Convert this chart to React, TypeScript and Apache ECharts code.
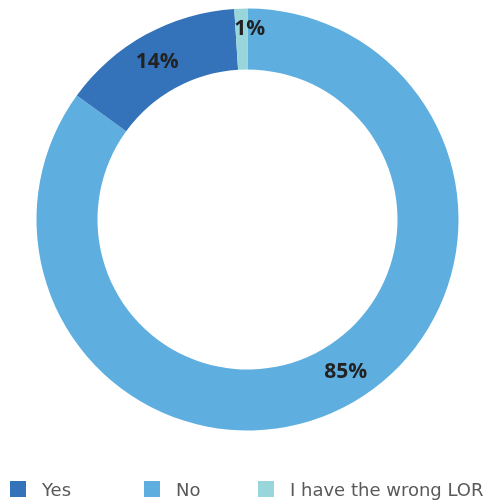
import React, { useEffect, useRef } from "react";
import * as echarts from "echarts";

const categories = ["Yes", "No", "I have the wrong LOR"];
const values = [14, 85, 1];
const colors = ["#3472B9", "#5EAFE0", "#98D6DC"];
const legendLefts = [10, 144, 258];
const labelOffsets: Record<string, number[]> = {
  "I have the wrong LOR": [8, -9],
  No: [15, -13],
  Yes: [-2, 1],
};

export default function App() {
  const ref = useRef<HTMLDivElement>(null);
  useEffect(() => {
    if (!ref.current) return;
    const chart = echarts.init(ref.current, null, { renderer: "svg" });
    const order = [1, 0, 2]; // clockwise from 12 o'clock: No, Yes, LOR
    const data = order.map((i) => ({
      name: categories[i],
      value: values[i],
      itemStyle: { color: colors[i] },
      label: labelOffsets[categories[i]] ? { offset: labelOffsets[categories[i]] } : undefined,
    }));
    chart.setOption({
      animation: false,
      color: colors,
      legend: categories.map((c, i) => ({
        data: [{ name: c, itemStyle: { color: colors[i] } }],
        left: legendLefts[i],
        top: 480,
        padding: 0,
        icon: "rect",
        itemWidth: 16,
        itemHeight: 16,
        selectedMode: false,
        textStyle: {
          fontFamily: "DejaVu Sans",
          fontSize: 18,
          color: "#58595B",
          padding: [0, 0, 0, 11],
        },
      })),
      series: [
        {
          type: "pie",
          center: [247.5, 219.5],
          radius: [150, 211],
          startAngle: 90,
          clockwise: true,
          data,
          label: {
            show: true,
            position: "inside",
            formatter: "{c}%",
            fontFamily: "Open Sans",
            fontWeight: "bold",
            fontSize: 21,
            color: "#222222",
          },
          labelLine: { show: false },
          emphasis: { disabled: true },
        },
      ],
    });
    return () => chart.dispose();
  }, []);
  return (
    <div
      ref={ref}
      style={{ position: "fixed", left: 0, top: 0, width: 489, height: 501 }}
    />
  );
}
